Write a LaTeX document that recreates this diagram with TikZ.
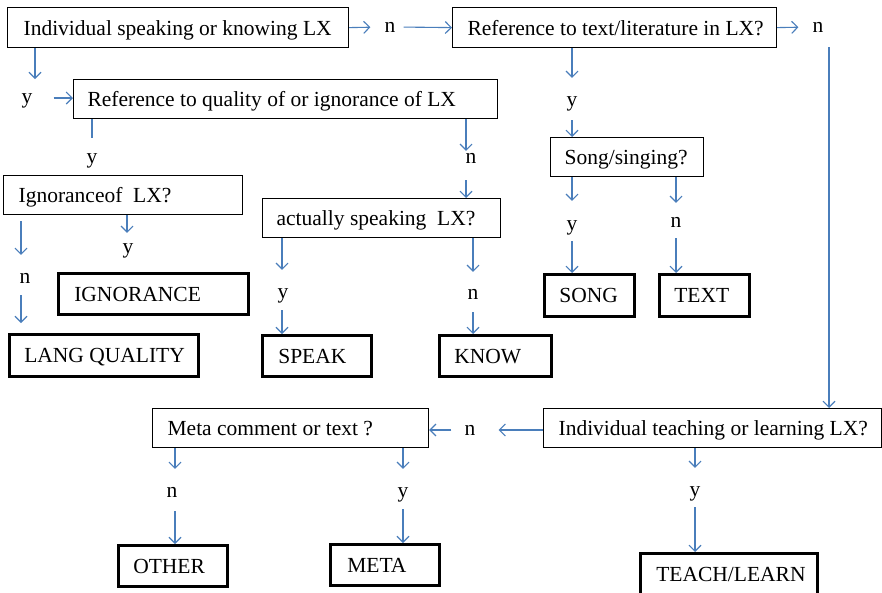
\documentclass[tikz,border=0pt]{standalone}
\usepackage{fontspec}
\setmainfont{Liberation Serif}
\usetikzlibrary{arrows.meta}
\definecolor{arrblue}{RGB}{74,126,187}
\newcommand{\bx}[2]{\makebox[#1][l]{#2}}
\begin{document}
\begin{tikzpicture}[x=1pt,y=-1pt,
  every node/.style={font=\fontsize{21.5}{26}\selectfont},
  qbox/.style={draw=black, line width=1.2pt, rectangle, anchor=north west, inner ysep=0pt, text height=15pt, text depth=0pt},
  tbox/.style={qbox, line width=2.6pt},
  lab/.style={inner sep=2pt, text height=10pt, text depth=0pt},
  arr/.style={draw=arrblue, line width=1.1pt, -{Straight Barb[length=6pt,width=12pt]}},
  ln/.style={draw=arrblue, line width=1.1pt}]
\useasboundingbox (0,0) rectangle (882,592);
\clip (0,0) rectangle (882,592);

% question boxes
\node[qbox, inner xsep=16pt, minimum height=40pt] (b1) at (7,7) {\bx{309pt}{Individual speaking or knowing LX}};
\node[qbox, inner xsep=15pt, minimum height=40pt] (b2) at (452,7) {\bx{294pt}{Reference to text/literature in LX?}};
\node[qbox, inner xsep=14pt, minimum height=39pt] (b3) at (73,79) {\bx{396pt}{Reference to quality of or ignorance of LX}};
\node[qbox, inner xsep=15pt, minimum height=39pt] (b4) at (3,175) {\bx{209pt}{Ignoranceof\ \ LX?}};
\node[qbox, inner xsep=14pt, minimum height=39pt] (b5) at (262,198) {\bx{210pt}{actually speaking\ \ LX?}};
\node[qbox, inner xsep=14pt, minimum height=39pt] (b6) at (550,137) {\bx{125pt}{Song/singing?}};
\node[qbox, inner xsep=15pt, minimum height=39pt] (b7) at (543,408) {\bx{308pt}{Individual teaching or learning LX?}};
\node[qbox, inner xsep=15pt, minimum height=39pt] (b8) at (152,408) {\bx{246pt}{Meta comment or text ?}};

% terminal boxes
\node[tbox, inner xsep=16pt, minimum height=41pt] (t1) at (57,272) {\bx{158pt}{IGNORANCE}};
\node[tbox, inner xsep=15pt, minimum height=42pt] (t2) at (8,333) {\bx{159pt}{LANG QUALITY}};
\node[tbox, inner xsep=16pt, minimum height=41pt] (t3) at (261,334) {\bx{77pt}{SPEAK}};
\node[tbox, inner xsep=15pt, minimum height=41pt] (t4) at (438,334) {\bx{82pt}{KNOW}};
\node[tbox, inner xsep=15pt, minimum height=42pt] (t5) at (543,273) {\bx{60pt}{SONG}};
\node[tbox, inner xsep=15pt, minimum height=42pt] (t6) at (658,273) {\bx{60pt}{TEXT}};
\node[tbox, inner xsep=15pt, minimum height=41pt] (t7) at (117,544) {\bx{79pt}{OTHER}};
\node[tbox, inner xsep=17pt, minimum height=41pt] (t8) at (329,543) {\bx{75pt}{META}};
\node[tbox, inner xsep=16pt, minimum height=42pt] (t9) at (639,552) {\bx{145pt}{TEACH/LEARN}};

% labels
\node[lab] (n1) at (390,27) {n};
\node[lab] (n2) at (818,27) {n};
\node[lab] (y1) at (27,98) {y};
\node[lab] (y2) at (92,158) {y};
\node[lab] (n3) at (471,158) {n};
\node[lab] (y3) at (572,101) {y};
\node[lab] (y4) at (572,225) {y};
\node[lab] (n4) at (676,222) {n};
\node[lab] (n5) at (25,278) {n};
\node[lab] (y5) at (128,248) {y};
\node[lab] (y6) at (283,293) {y};
\node[lab] (n6) at (473,294) {n};
\node[lab] (n7) at (470,430) {n};
\node[lab] (n8) at (172,492) {n};
\node[lab] (y7) at (403,492) {y};
\node[lab] (y8) at (695,491) {y};

% connectors
\draw[arr, shorten >=12pt] (b1.east) -- (n1.west);
\draw[arr, shorten <=6pt] (n1.east) -- (b2.west);
\draw[arr, shorten >=12pt] (b2.east) -- (n2.west);
\draw[arr, shorten <=13pt] (n2.south -| 829,0) -- (b7.north -| 829,0);

\draw[arr] (b1.south -| 35,0) -- (b3.north -| 35,0);
\draw[arr, shorten <=19pt] (y1.east) -- (b3.west |- y1.east);
\draw[ln, shorten >=13pt] (b3.south -| y2.north) -- (y2.north);
\draw[arr] (b3.south -| 466,0) -- (n3.north -| 466,0);
\draw[arr, shorten <=15pt] (n3.south -| 466,0) -- (b5.north -| 466,0);

\draw[arr, shorten >=16pt] (b2.south -| y3.north) -- (y3.north);
\draw[arr, shorten <=12pt] (y3.south) -- (b6.north -| y3.south);
\draw[arr, shorten >=17pt] (b6.south -| y4.north) -- (y4.north);
\draw[arr, shorten <=9pt] (y4.south) -- (t5.north -| y4.south);
\draw[arr, shorten >=12pt] (b6.south -| n4.north) -- (n4.north);
\draw[arr, shorten <=9pt] (n4.south) -- (t6.north -| n4.south);

\draw[arr, shorten <=6pt, shorten >=16pt] (b4.south -| 21,0) -- (n5.north -| 21,0);
\draw[arr, shorten <=10pt, shorten >=10pt] (n5.south -| 21,0) -- (t2.north -| 21,0);
\draw[arr, shorten >=8pt] (b4.south -| 127,0) -- (y5.north -| 127,0);

\draw[arr, shorten >=16pt] (b5.south -| 282,0) -- (y6.north -| 282,0);
\draw[arr, shorten <=10pt] (y6.south -| 282,0) -- (t3.north -| 282,0);
\draw[arr, shorten >=15pt] (b5.south -| n6.north) -- (n6.north);
\draw[arr, shorten <=11pt] (n6.south) -- (t4.north -| n6.south);

\draw[arr, shorten >=21pt] (b7.west |- n7.east) -- (n7.east);
\draw[arr, shorten <=11pt] (n7.west) -- (b8.east |- n7.west);
\draw[arr, shorten >=16pt] (b8.south -| 175,0) -- (n8.north -| 175,0);
\draw[arr, shorten <=12pt] (n8.south -| 175,0) -- (t7.north -| 175,0);
\draw[arr, shorten >=16pt] (b8.south -| y7.north) -- (y7.north);
\draw[arr, shorten <=10pt] (y7.south) -- (t8.north -| y7.south);
\draw[arr, shorten >=16pt] (b7.south -| y8.north) -- (y8.north);
\draw[arr, shorten <=9pt] (y8.south) -- (t9.north -| y8.south);
\end{tikzpicture}
\end{document}
